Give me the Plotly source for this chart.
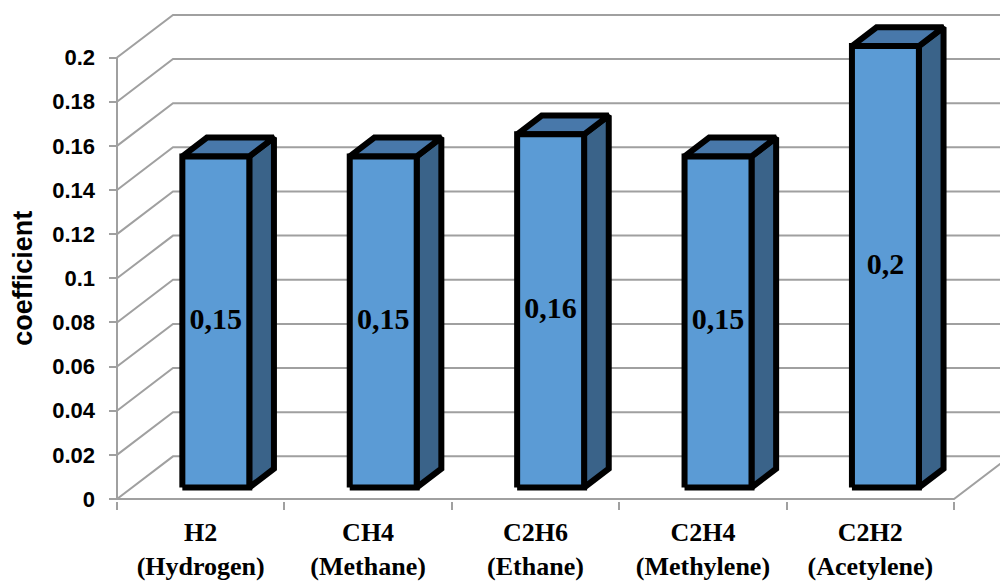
import plotly.graph_objects as go

# ---- data ----
formulas = ["H2", "CH4", "C2H6", "C2H4", "C2H2"]
gas_names = ["Hydrogen", "Methane", "Ethane", "Methylene", "Acetylene"]
coefficients = [0.15, 0.15, 0.16, 0.15, 0.2]
y_tick_values = [0, 0.02, 0.04, 0.06, 0.08, 0.1, 0.12, 0.14, 0.16, 0.18, 0.2]
y_tick_labels = ["0", "0.02", "0.04", "0.06", "0.08", "0.1", "0.12", "0.14",
                 "0.16", "0.18", "0.2"]

# ---- geometry of the pseudo-3D box ----
CAT_PX = 167.4          # pixels per category
VAL_PX = 2225.0         # pixels per unit of coefficient
DX = 56 / CAT_PX        # depth offset, x units
DY = 43 / VAL_PX        # depth offset, y units
BAR_W = 0.4
D_FRONT, D_BACK = 0.27, 0.71

FRONT = "#5B9BD5"
TOP = "#4878AA"
SIDE = "#3A6389"
GRID = "#A0A0A0"

W, H = 1000, 581
PLOT_L, PLOT_B = 109, 505   # pixel position of plot area left / bottom
Y0_PX = 503                 # pixel row of coefficient 0 on the front plane
X0_PX = 117                 # pixel column of the left category edge

x_lo = -0.5 - (X0_PX - PLOT_L) / CAT_PX
x_hi = -0.5 + (W - X0_PX) / CAT_PX
y_lo = -(PLOT_B - Y0_PX) / VAL_PX
y_hi = Y0_PX / VAL_PX

n = len(formulas)
x_left, x_right = -0.5, n - 0.5
y_max = y_tick_values[-1]


def proj(x, y, d):
    return x + d * DX, y + d * DY


fig = go.Figure()

# back wall grid lines with the diagonals along the left wall
gx, gy = [], []
for v in y_tick_values:
    a = (x_left, v)
    b = proj(x_left, v, 1)
    c = proj(x_right, v, 1)
    gx += [a[0], b[0], c[0], None]
    gy += [a[1], b[1], c[1], None]
# front edge of the floor and its right diagonal
fr = proj(x_right, 0, 1)
gx += [x_left, x_right, fr[0], None]
gy += [0, 0, fr[1], None]
# vertical value axis
gx += [x_left, x_left]
gy += [0, y_max]
fig.add_trace(go.Scatter(x=gx, y=gy, mode="lines",
                         line=dict(color=GRID, width=2),
                         hoverinfo="skip", showlegend=False))


def face(points, color):
    xs = [p[0] for p in points] + [points[0][0]]
    ys = [p[1] for p in points] + [points[0][1]]
    fig.add_trace(go.Scatter(x=xs, y=ys, mode="lines", fill="toself",
                             fillcolor=color,
                             line=dict(color="black", width=6),
                             hoverinfo="skip", showlegend=False))


for i, v in enumerate(coefficients):
    x0, x1 = i - BAR_W / 2, i + BAR_W / 2
    side = [proj(x1, 0, D_FRONT), proj(x1, 0, D_BACK),
            proj(x1, v, D_BACK), proj(x1, v, D_FRONT)]
    top = [proj(x0, v, D_FRONT), proj(x1, v, D_FRONT),
           proj(x1, v, D_BACK), proj(x0, v, D_BACK)]
    front = [proj(x0, 0, D_FRONT), proj(x1, 0, D_FRONT),
             proj(x1, v, D_FRONT), proj(x0, v, D_FRONT)]
    face(side, SIDE)
    face(top, TOP)
    face(front, FRONT)

# value labels on the front faces
lx, ly, lt = [], [], []
for i, v in enumerate(coefficients):
    p = proj(i, v / 2, D_FRONT)
    lx.append(p[0])
    ly.append(p[1])
    lt.append(f"{v:g}".replace(".", ","))
fig.add_trace(go.Scatter(x=lx, y=ly, mode="text", text=lt,
                         textposition="middle center",
                         textfont=dict(family="Liberation Serif", size=30,
                                       color="black", weight="bold"),
                         hoverinfo="skip", showlegend=False))

fig.update_layout(
    width=W, height=H,
    margin=dict(l=PLOT_L, r=0, t=0, b=H - PLOT_B, pad=0),
    plot_bgcolor="white", paper_bgcolor="white",
    showlegend=False,
    xaxis=dict(
        range=[x_lo, x_hi], showgrid=False, zeroline=False, showline=False,
        tickmode="array", tickvals=list(range(n)),
        ticktext=[f"{f}<br>({g})" for f, g in zip(formulas, gas_names)],
        ticks="outside", ticklen=8, tickcolor="rgba(0,0,0,0)",
        tickfont=dict(family="Liberation Serif", size=26, color="black",
                      weight="bold"),
        minor=dict(tickmode="array",
                   tickvals=[k - 0.5 for k in range(n + 1)],
                   ticks="outside", ticklen=8, tickwidth=2,
                   tickcolor=GRID, showgrid=False),
        fixedrange=True,
    ),
    yaxis=dict(
        range=[y_lo, y_hi], showgrid=False, zeroline=False, showline=False,
        tickmode="array", tickvals=y_tick_values, ticktext=y_tick_labels,
        ticks="inside", ticklen=8, tickwidth=2, tickcolor=GRID,
        ticklabelstandoff=13,
        tickfont=dict(family="Liberation Sans", size=22, color="black",
                      weight="bold"),
        fixedrange=True,
    ),
    annotations=[dict(
        text="coefficient", textangle=-90, showarrow=False,
        xref="paper", yref="paper",
        x=(23 - PLOT_L) / (W - PLOT_L), y=(PLOT_B - 281) / PLOT_B,
        xanchor="center", yanchor="middle",
        font=dict(family="Liberation Sans", size=27, color="black",
                  weight="bold"),
    )],
)

fig.write_html("out.html")
